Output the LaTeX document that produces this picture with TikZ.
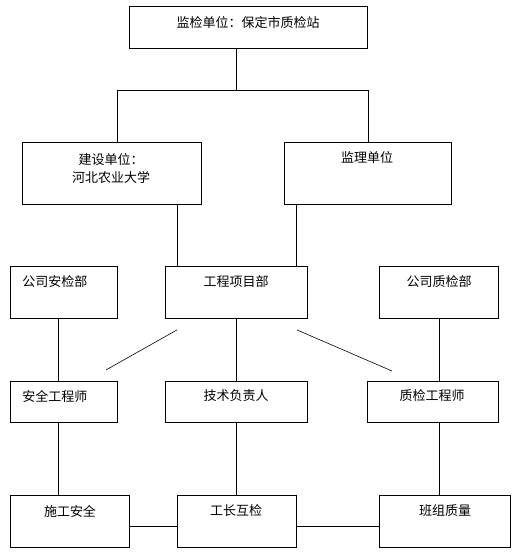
\documentclass[tikz,border=0pt]{standalone}
\usepackage{fontspec}
\setmainfont{Noto Sans CJK SC}
\usepackage{tikz}
\usetikzlibrary{calc}

\tikzset{
	unit/.style={draw, line width=0.9pt, inner sep=0pt, anchor=north west},
	word/.style={font=\fontsize{13}{18}\selectfont, inner sep=0pt, align=center},
	link/.style={line width=0.9pt}
}

\begin{document}
\begin{tikzpicture}[x=1pt, y=-1pt]
		\useasboundingbox (0,0) rectangle (527,552);
		
		% boxes
		\node[unit, minimum width=238pt, minimum height=42pt] (jc) at (129,6) {};
		\node[unit, minimum width=179pt, minimum height=62pt] (js) at (22,142) {};
		\node[unit, minimum width=167pt, minimum height=62pt] (jl) at (284,142) {};
		\node[unit, minimum width=107pt, minimum height=52pt] (ab) at (10,266) {};
		\node[unit, minimum width=142pt, minimum height=52pt] (gx) at (165,266) {};
		\node[unit, minimum width=119pt, minimum height=52pt] (zb) at (379,266) {};
		\node[unit, minimum width=107pt, minimum height=41pt] (aq) at (10,381) {};
		\node[unit, minimum width=142pt, minimum height=41pt] (jf) at (165,381) {};
		\node[unit, minimum width=131pt, minimum height=41pt] (zq) at (367,381) {};
		\node[unit, minimum width=119pt, minimum height=52pt] (sa) at (10,495) {};
		\node[unit, minimum width=119pt, minimum height=52pt] (gz) at (177,495) {};
		\node[unit, minimum width=131pt, minimum height=52pt] (bz) at (379,495) {};
		
		% texts
		\node[word] (jc-t) at (248,23) {监检单位：保定市质检站};
		\node[word] (js-t) at (111,169) {建设单位：\\河北农业大学};
		\node[word] (jl-t) at (367,158) {监理单位};
		\node[word] (ab-t) at (55,282) {公司安检部};
		\node[word] (gx-t) at (236,282) {工程项目部};
		\node[word] (zb-t) at (439,282) {公司质检部};
		\node[word] (aq-t) at (55,396) {安全工程师};
		\node[word] (jf-t) at (236,396) {技术负责人};
		\node[word] (zq-t) at (432,396) {质检工程师};
		\node[word] (sa-t) at (70,511) {施工安全};
		\node[word] (gz-t) at (236,511) {工长互检};
		\node[word] (bz-t) at (445,511) {班组质量};
		
		% top fork
		\draw[link] ([xshift=-12pt]jc.south) -- ++(0,42) coordinate (fork);
		\draw[link] ([xshift=5.5pt]js.north) |- (fork) -| (jl.north);
		
		% into the project office
		\coordinate (gxl) at ([xshift=12pt]gx.north west);
		\coordinate (gxr) at ([xshift=-11pt]gx.north east);
		\draw[link] (gxl) -- (gxl |- js.south);
		\draw[link] (gxr) -- (gxr |- jl.south);
		
		% loose diagonals
		\draw[line width=0.6pt] ($(gxl |- gx.south)+(0,11)$) -- ($(aq.north east)+(-12,-11)$);
		\draw[line width=0.6pt] ($(gxr |- gx.south)+(0,11)$) -- ($(zq.north west)+(25,-10)$);
		
		% left column
		\coordinate (lc) at ([xshift=-5.5pt]ab.south);
		\draw[link] (lc) -- (lc |- aq.north);
		\draw[link] (lc |- aq.south) -- (lc |- sa.north);
		
		% middle column
		\draw[link] (gx.south) -- (jf.north);
		\draw[link] (jf.south) -- (jf.south |- gz.north);
		
		% right column
		\coordinate (rc) at (zb.south);
		\draw[link] (rc) -- (rc |- zq.north);
		\draw[link] (rc |- zq.south) -- (rc |- bz.north);
		
		% bottom row
		\coordinate (br) at ($(sa.east)+(0,5)$);
		\draw[link] (br) -- (br -| gz.west);
		\draw[link] (br -| gz.east) -- (br -| bz.west);
\end{tikzpicture}
\end{document}
